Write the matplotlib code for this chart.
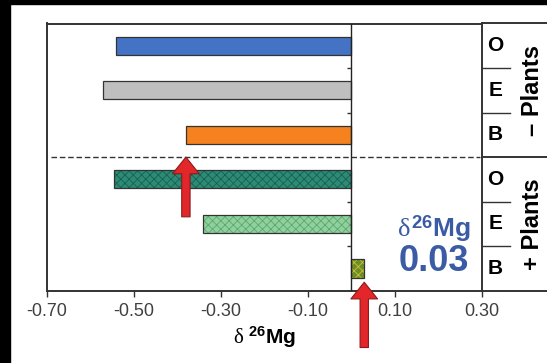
import matplotlib
matplotlib.use("Agg")
import matplotlib.pyplot as plt
from matplotlib.patches import Rectangle
from matplotlib.transforms import blended_transform_factory

# Data
row_labels = ['O', 'E', 'B', 'O', 'E', 'B']
group_labels = ['\u2013 Plants', '+ Plants']
values = [-0.54, -0.57, -0.38, -0.545, -0.34, 0.03]
face_colors = ['#4472C4', '#BFBFBF', '#F5821F', '#2A8C76', '#8FD19E', '#6E8E25']
hatch_colors = [None, None, None, '#1E5E50', '#5FA86E', '#C8C040']
xticks = [-0.70, -0.50, -0.30, -0.10, 0.10, 0.30]
highlight_value = 0.03

plt.rcParams['font.family'] = ['Liberation Sans', 'DejaVu Sans']
plt.rcParams['mathtext.fontset'] = 'custom'
plt.rcParams['mathtext.rm'] = 'Liberation Sans:bold'
plt.rcParams['mathtext.it'] = 'Liberation Serif'
plt.rcParams['hatch.linewidth'] = 0.6

fig = plt.figure(figsize=(5.47, 3.63), dpi=100)
ax = fig.add_axes([46.7 / 547, (363 - 290.7) / 363, 435 / 547, 267.2 / 363])

# Black screenshot border (left and top)
fig.patches.append(Rectangle((0, 0), 10 / 547, 1, transform=fig.transFigure, color='black'))
fig.patches.append(Rectangle((0, 1 - 3.5 / 363), 1, 3.5 / 363, transform=fig.transFigure, color='black'))

rows = list(range(len(values)))
for y, v, fc, hc in zip(rows, values, face_colors, hatch_colors):
    if hc is None:
        ax.barh(y, v, height=0.41, color=fc, edgecolor='#333333', linewidth=0.9, zorder=3)
    else:
        ax.barh(y, v, height=0.41, color=fc, edgecolor=hc, hatch='xxxx', linewidth=0, zorder=3)
        ax.barh(y, v, height=0.41, fill=False, edgecolor='#333333', linewidth=0.9, zorder=4)

ax.set_xlim(-0.70, 0.30)
ax.set_ylim(len(values) - 0.5, -0.5)
ax.set_xticks(xticks)
ax.set_xticklabels(['%.2f' % t for t in xticks], fontsize=13, color='#404040')
ax.set_yticks([])
ax.tick_params(axis='x', length=4, width=1, color='#333333', pad=5)
for s in ax.spines.values():
    s.set_color('#333333')
    s.set_linewidth(1.4)

# zero line with small ticks at row boundaries
ax.axvline(0, color='#222222', linewidth=1.0, zorder=5)
bounds = [0.5, 1.5, 3.5, 4.5]
ax.hlines(bounds, -0.009, 0, color='#333333', linewidth=1.0, zorder=5)

# dashed separator between groups
ax.axhline(2.5, xmin=0.01, xmax=0.995, color='#333333', linestyle=(0, (4, 2)), linewidth=1.0, zorder=2)

ax.set_xlabel(r'$\delta\ ^{26}\mathrm{Mg}$', fontsize=15, labelpad=3)

# right side table
tr = blended_transform_factory(ax.transAxes, ax.transData)
for b in bounds:
    ax.plot([1.0, 1.065], [b, b], transform=tr, color='#333333', lw=1.0, clip_on=False)
for b in [-0.5, 2.5, len(values) - 0.5]:
    ax.plot([1.0, 1.2], [b, b], transform=tr, color='#333333', lw=1.4, clip_on=False)
for y, lab in zip(rows, row_labels):
    ax.text(1.031, y, lab, transform=tr, ha='center', va='center', fontsize=15, fontweight='bold')
for i, g in enumerate(group_labels):
    ax.text(1.117, 3 * i + 1, g, transform=tr, ha='center', va='center', rotation=90,
            fontsize=17, fontweight='bold')

# value annotation
ax.text(0.19, 4.1, r'$\delta^{26}\mathrm{Mg}$', ha='center', va='center', fontsize=19, color='#3B5BA5')
ax.text(0.19, 4.84, '%.2f' % highlight_value, ha='center', va='center', fontsize=26,
        fontweight='bold', color='#3B5BA5')

# red arrows
arrow = dict(arrowstyle='simple,head_width=1.6,head_length=1.0,tail_width=0.5',
             fc='#E3262A', ec='#8B1A1A', lw=0.8, shrinkA=0, shrinkB=0, mutation_scale=12)
ax.annotate('', xy=(values[2], 2.5), xytext=(0, -43), textcoords='offset points',
            arrowprops=arrow, annotation_clip=False, zorder=6)
ax.annotate('', xy=(values[5], 5.31), xytext=(0, -47), textcoords='offset points',
            arrowprops=arrow, annotation_clip=False, zorder=6)

fig.savefig('out.png', dpi=100)
